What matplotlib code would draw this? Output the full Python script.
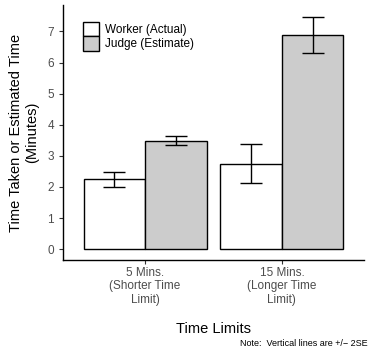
import matplotlib
matplotlib.use("Agg")
import matplotlib.pyplot as plt
import numpy as np
from matplotlib.patches import Patch

plt.rcParams['font.family'] = ['Liberation Sans', 'DejaVu Sans']

categories = ["5 Mins.\n(Shorter Time\nLimit)", "15 Mins.\n(Longer Time\nLimit)"]
series = ["Worker (Actual)", "Judge (Estimate)"]
worker = [2.24, 2.75]
judge = [3.49, 6.90]
worker_lo = [2.00, 2.14]
worker_hi = [2.48, 3.38]
judge_lo = [3.35, 6.32]
judge_hi = [3.63, 7.47]
colors = ["white", "#cccccc"]

fig = plt.figure(figsize=(3.71, 3.53), dpi=100)
ax = fig.add_axes([63/371, 1-260/353, (364-63)/371, (260-5)/353])

x = np.arange(1, len(categories)+1)
w = 0.45
for i, (vals, lo, hi) in enumerate([(worker, worker_lo, worker_hi), (judge, judge_lo, judge_hi)]):
    pos = x + (i - 0.5) * w
    ax.bar(pos, vals, width=w, color=colors[i], edgecolor='black', linewidth=1.0, zorder=2)
    vals = np.array(vals)
    yerr = [vals - np.array(lo), np.array(hi) - vals]
    ax.errorbar(pos, vals, yerr=yerr, fmt='none', ecolor='black', elinewidth=1.0,
                capsize=8, capthick=1.0, zorder=3)

ax.set_xlim(0.4, 2.6)
ax.set_ylim(-0.35, 7.85)
ax.set_yticks(range(0, 8))
ax.set_xticks(x)
ax.set_xticklabels(categories, fontsize=8.5, color='#4d4d4d', linespacing=1.15)
ax.tick_params(axis='y', labelsize=8.5, labelcolor='#4d4d4d', length=3, width=0.8, color='#333333')
ax.tick_params(axis='x', length=3, width=0.8, color='#333333', pad=2)
for s in ['top', 'right']:
    ax.spines[s].set_visible(False)
for s in ['left', 'bottom']:
    ax.spines[s].set_linewidth(1.0)

ax.set_xlabel("Time Limits", fontsize=10.5, labelpad=12)
ax.set_ylabel("Time Taken or Estimated Time\n(Minutes)", fontsize=10.5, labelpad=6)

handles = [Patch(facecolor=colors[i], edgecolor='black', linewidth=1.0, label=series[i]) for i in range(2)]
ax.legend(handles=handles, loc='upper left', bbox_to_anchor=(0.066, 0.935), frameon=False,
          fontsize=8.5, handlelength=1.4, handleheight=1.5, handletextpad=0.5, labelspacing=0.02,
          borderaxespad=0, borderpad=0)

fig.text(0.99, 0.015, "Note:  Vertical lines are +/\u2212 2SE", fontsize=6.5, ha='right', va='bottom')

fig.savefig("out.png", dpi=100)
